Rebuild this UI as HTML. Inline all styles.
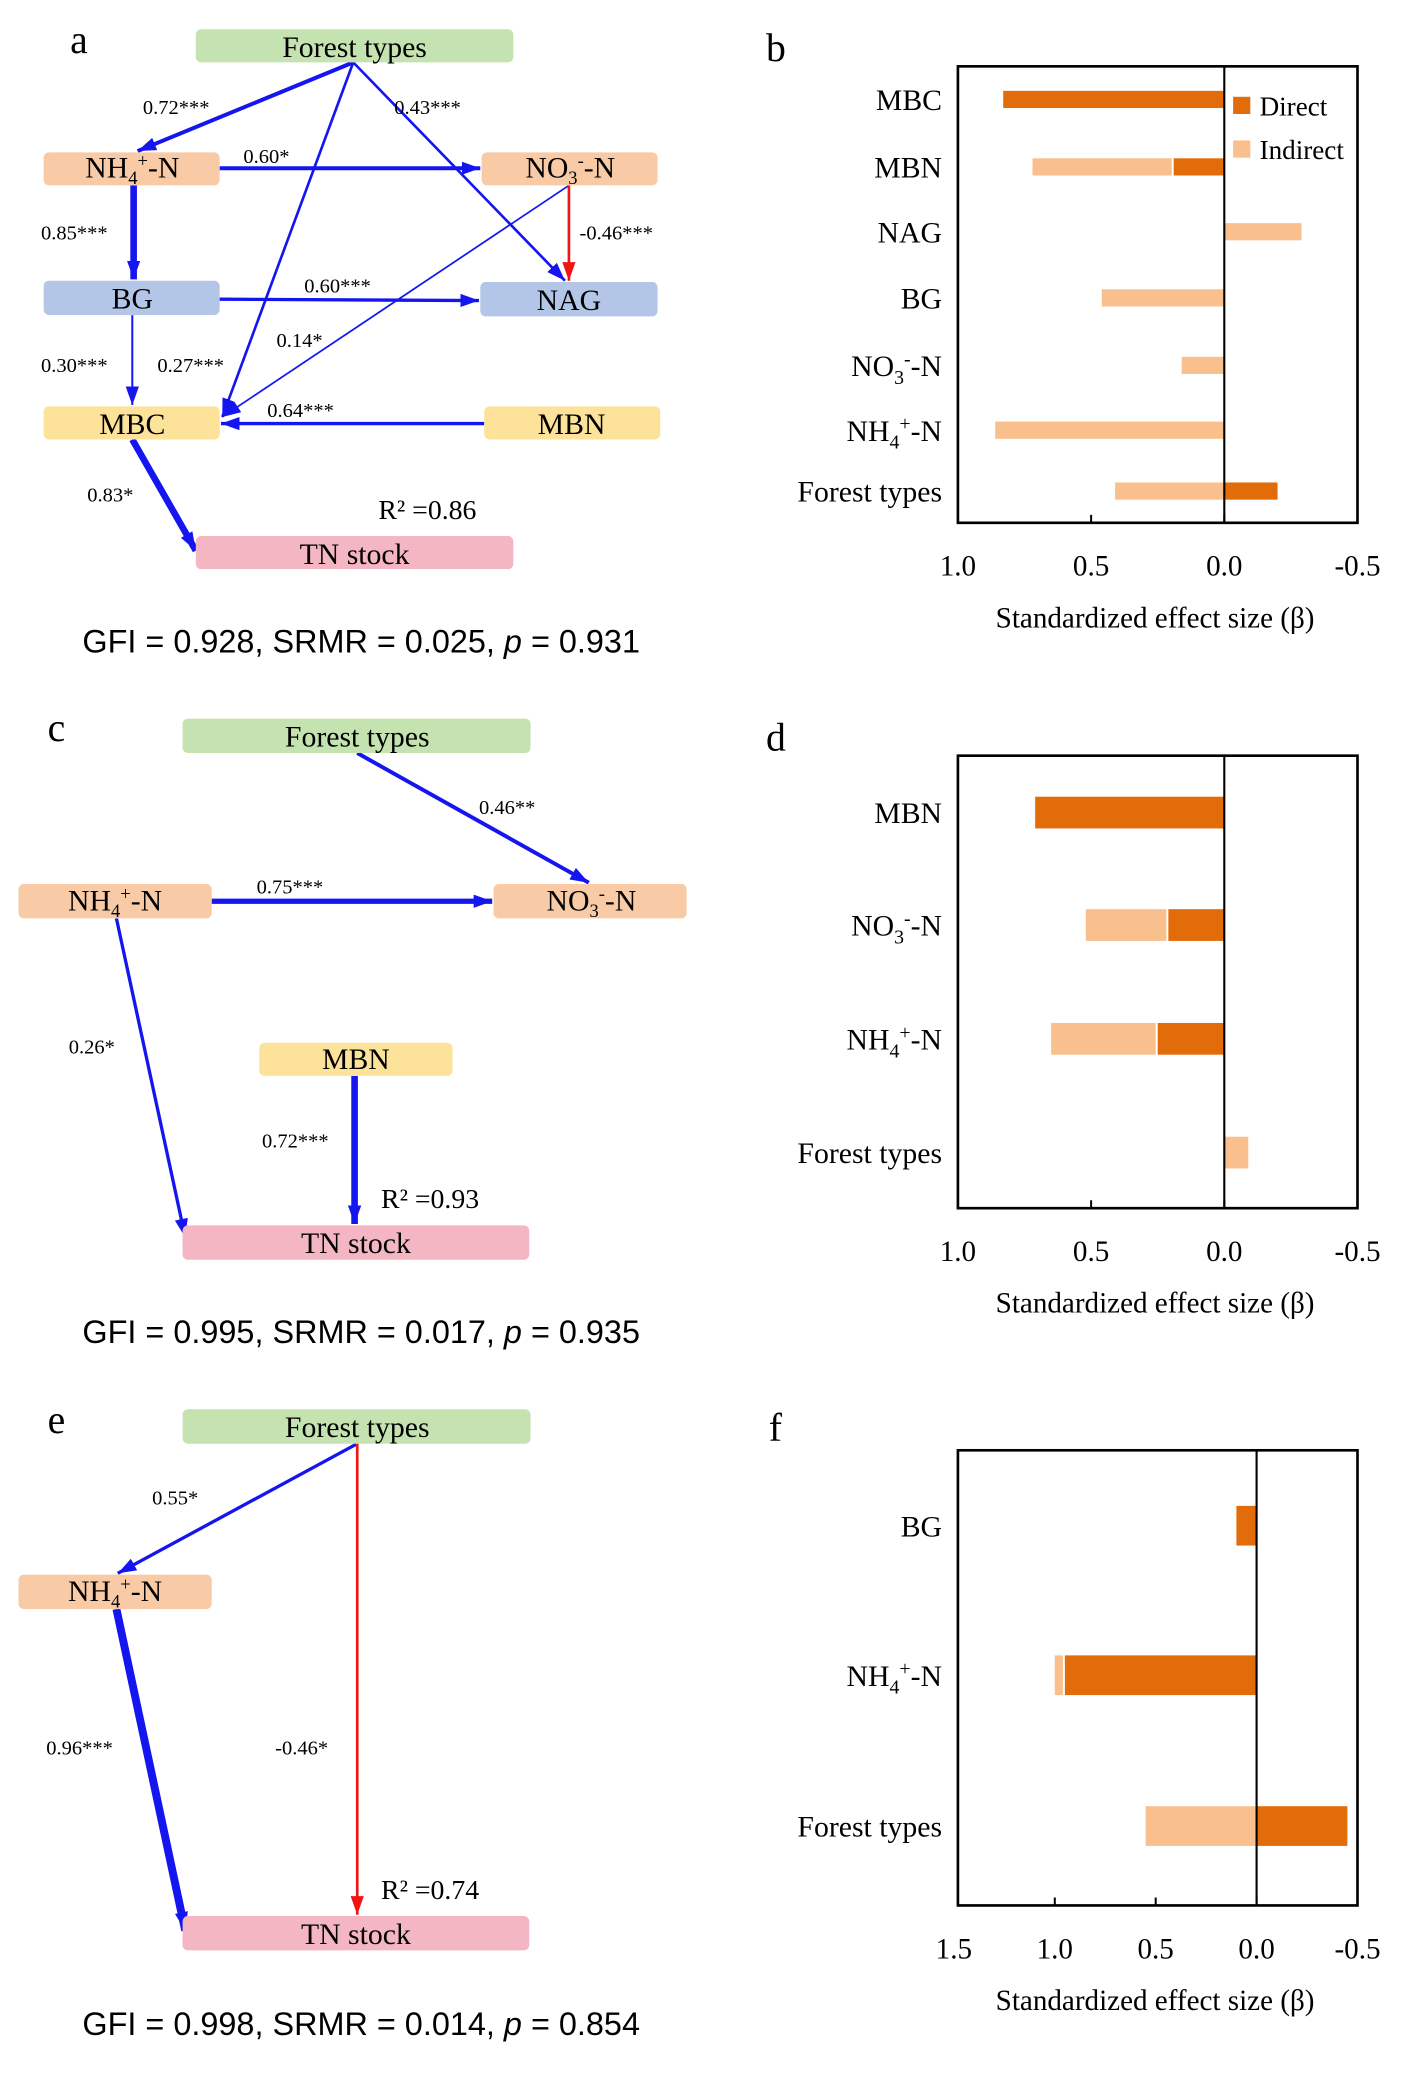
<!DOCTYPE html>
<html><head><meta charset="utf-8">
<style>
html,body{margin:0;padding:0;background:#fff;}
svg{display:block;}
.serif{font-family:"Liberation Serif",serif;}
.lab{font-family:"Liberation Serif",serif;font-size:15.5px;}
.box{font-family:"Liberation Serif",serif;font-size:22.5px;}
.fit{font-family:"Liberation Sans",sans-serif;font-size:24.5px;}
</style></head>
<body>
<svg id="fig" width="1421" height="2075" viewBox="0 0 1074 1568" xmlns="http://www.w3.org/2000/svg">
<defs>
<marker id="ab" viewBox="0 0 14 10" refX="14" refY="5" markerWidth="14" markerHeight="10" markerUnits="userSpaceOnUse" orient="auto"><path d="M0,0L14,5L0,10z" fill="#1515f0"/></marker>
<marker id="ar" viewBox="0 0 14 10" refX="14" refY="5" markerWidth="14" markerHeight="10" markerUnits="userSpaceOnUse" orient="auto"><path d="M0,0L14,5L0,10z" fill="#f01515"/></marker>
</defs>

<g class="serif" font-size="30">
<text x="53" y="40">a</text>
<text x="579" y="46">b</text>
<text x="36" y="560">c</text>
<text x="579" y="567">d</text>
<text x="36" y="1083">e</text>
<text x="581" y="1089">f</text>
</g>

<!-- ========== Diagram a ========== -->
<g>
<g stroke="#1515f0" fill="none">
<line x1="267" y1="47" x2="104" y2="114" stroke-width="3" marker-end="url(#ab)"/>
<line x1="267" y1="47" x2="427" y2="212" stroke-width="2" marker-end="url(#ab)"/>
<line x1="267" y1="47" x2="168" y2="315" stroke-width="2" marker-end="url(#ab)"/>
<line x1="166" y1="127" x2="363" y2="127" stroke-width="3" marker-end="url(#ab)"/>
<line x1="101" y1="140" x2="101" y2="211" stroke-width="5" marker-end="url(#ab)"/>
<line x1="166" y1="226" x2="362" y2="227" stroke-width="2.5" marker-end="url(#ab)"/>
<line x1="430" y1="140" x2="168" y2="315" stroke-width="1.3" marker-end="url(#ab)"/>
<line x1="100" y1="238" x2="100" y2="306" stroke-width="1.5" marker-end="url(#ab)"/>
<line x1="366" y1="320" x2="167" y2="320" stroke-width="2.5" marker-end="url(#ab)"/>
<line x1="100" y1="332" x2="148" y2="416" stroke-width="5" marker-end="url(#ab)"/>
</g>
<line x1="430" y1="140" x2="430" y2="212" stroke="#f01515" stroke-width="2" marker-end="url(#ar)"/>
<rect x="148" y="22" width="240" height="25" rx="4" fill="#c5e3b0"/>
<rect x="33" y="115" width="133" height="25" rx="4" fill="#f8cba6"/>
<rect x="364" y="115" width="133" height="25" rx="4" fill="#f8cba6"/>
<rect x="33" y="212" width="133" height="26" rx="4" fill="#b4c6e7"/>
<rect x="363" y="213" width="134" height="26" rx="4" fill="#b4c6e7"/>
<rect x="33" y="307" width="133" height="25" rx="4" fill="#fde29a"/>
<rect x="366" y="307" width="133" height="25" rx="4" fill="#fde29a"/>
<rect x="148" y="405" width="240" height="25" rx="4" fill="#f4b6c2"/>
<g class="box" text-anchor="middle">
<text x="268" y="43">Forest types</text>
<text x="100" y="134">NH<tspan font-size="14" dy="5">4</tspan><tspan font-size="14" dy="-13">+</tspan><tspan dy="8">-N</tspan></text>
<text x="431" y="134">NO<tspan font-size="14" dy="5">3</tspan><tspan font-size="14" dy="-13">-</tspan><tspan dy="8">-N</tspan></text>
<text x="100" y="233">BG</text>
<text x="430" y="234">NAG</text>
<text x="100" y="328">MBC</text>
<text x="432" y="328">MBN</text>
<text x="268" y="426">TN stock</text>
</g>
<g class="lab">
<text x="108" y="86">0.72***</text>
<text x="298" y="86">0.43***</text>
<text x="184" y="123">0.60*</text>
<text x="31" y="181">0.85***</text>
<text x="438" y="181">-0.46***</text>
<text x="230" y="221">0.60***</text>
<text x="209" y="262">0.14*</text>
<text x="31" y="281">0.30***</text>
<text x="119" y="281">0.27***</text>
<text x="202" y="315">0.64***</text>
<text x="66" y="379">0.83*</text>
</g>
<text x="286" y="392" class="serif" font-size="21">R² =0.86</text>
<text x="273" y="493" text-anchor="middle" class="fit">GFI = 0.928, SRMR = 0.025, <tspan font-style="italic">p</tspan> = 0.931</text>
</g>

<!-- ========== Diagram c ========== -->
<g>
<g stroke="#1515f0" fill="none">
<line x1="270" y1="569" x2="445" y2="667" stroke-width="3" marker-end="url(#ab)"/>
<line x1="160" y1="681" x2="372" y2="681" stroke-width="4" marker-end="url(#ab)"/>
<line x1="88" y1="694" x2="140" y2="935" stroke-width="2.5" marker-end="url(#ab)"/>
<line x1="268" y1="813" x2="268" y2="925" stroke-width="5" marker-end="url(#ab)"/>
</g>
<rect x="138" y="543" width="263" height="26" rx="4" fill="#c5e3b0"/>
<rect x="14" y="668" width="146" height="26" rx="4" fill="#f8cba6"/>
<rect x="373" y="668" width="146" height="26" rx="4" fill="#f8cba6"/>
<rect x="196" y="788" width="146" height="25" rx="4" fill="#fde29a"/>
<rect x="138" y="926" width="262" height="26" rx="4" fill="#f4b6c2"/>
<g class="box" text-anchor="middle">
<text x="270" y="564">Forest types</text>
<text x="87" y="688">NH<tspan font-size="14" dy="5">4</tspan><tspan font-size="14" dy="-13">+</tspan><tspan dy="8">-N</tspan></text>
<text x="447" y="688">NO<tspan font-size="14" dy="5">3</tspan><tspan font-size="14" dy="-13">-</tspan><tspan dy="8">-N</tspan></text>
<text x="269" y="808">MBN</text>
<text x="269" y="947">TN stock</text>
</g>
<g class="lab">
<text x="362" y="615">0.46**</text>
<text x="194" y="675">0.75***</text>
<text x="52" y="796">0.26*</text>
<text x="198" y="867">0.72***</text>
</g>
<text x="288" y="913" class="serif" font-size="21">R² =0.93</text>
<text x="273" y="1015" text-anchor="middle" class="fit">GFI = 0.995, SRMR = 0.017, <tspan font-style="italic">p</tspan> = 0.935</text>
</g>

<!-- ========== Diagram e ========== -->
<g>
<g stroke="#1515f0" fill="none">
<line x1="270" y1="1091" x2="89" y2="1189" stroke-width="2.5" marker-end="url(#ab)"/>
<line x1="88" y1="1216" x2="140" y2="1459" stroke-width="6" marker-end="url(#ab)"/>
</g>
<line x1="270" y1="1091" x2="270" y2="1447" stroke="#f01515" stroke-width="2" marker-end="url(#ar)"/>
<rect x="138" y="1065" width="263" height="26" rx="4" fill="#c5e3b0"/>
<rect x="14" y="1190" width="146" height="26" rx="4" fill="#f8cba6"/>
<rect x="138" y="1448" width="262" height="26" rx="4" fill="#f4b6c2"/>
<g class="box" text-anchor="middle">
<text x="270" y="1086">Forest types</text>
<text x="87" y="1210">NH<tspan font-size="14" dy="5">4</tspan><tspan font-size="14" dy="-13">+</tspan><tspan dy="8">-N</tspan></text>
<text x="269" y="1469">TN stock</text>
</g>
<g class="lab">
<text x="115" y="1137">0.55*</text>
<text x="35" y="1326">0.96***</text>
<text x="208" y="1326">-0.46*</text>
</g>
<text x="288" y="1435" class="serif" font-size="21">R² =0.74</text>
<text x="273" y="1538" text-anchor="middle" class="fit">GFI = 0.998, SRMR = 0.014, <tspan font-style="italic">p</tspan> = 0.854</text>
</g>

<g id="charts"></g>
</svg>

<script>
// Chart b
const bCats = ["MBC","MBN","NAG","BG","NO3","NH4","Forest types"];
const bDirect = [0.83,0.19,0,0,0,0,-0.20];
const bIndirect = [0,0.53,-0.29,0.46,0.16,0.86,0.41];
const bTicks = [1.0,0.5,0.0,-0.5];
// Chart d
const dCats = ["MBN","NO3","NH4","Forest types"];
const dDirect = [0.71,0.21,0.25,0];
const dIndirect = [0,0.31,0.40,-0.09];
const dTicks = [1.0,0.5,0.0,-0.5];
// Chart f
const fCats = ["BG","NH4","Forest types"];
const fDirect = [0.10,0.95,-0.45];
const fIndirect = [0,0.05,0.55];
const fTicks = [1.5,1.0,0.5,0.0,-0.5];

const NS="http://www.w3.org/2000/svg";
const DARK="#e36c0a", LIGHT="#f9c08e";
const root=document.getElementById("charts");
function mk(tag,attrs,parent){const e=document.createElementNS(NS,tag);for(const k in attrs)e.setAttribute(k,attrs[k]);(parent||root).appendChild(e);return e;}

function catLabel(g,cat,x,y){
  const t=mk("text",{x:x,y:y,"text-anchor":"end","font-family":"Liberation Serif, serif","font-size":22.5},g);
  
  
  if(cat==="NO3"||cat==="NH4"){
    t.appendChild(document.createTextNode(cat==="NO3"?"NO":"NH"));
    const s1=mk("tspan",{"font-size":15,dy:6},t);s1.textContent=cat==="NO3"?"3":"4";
    const s2=mk("tspan",{"font-size":15,dy:-14},t);s2.textContent=cat==="NO3"?"-":"+";
    const s3=mk("tspan",{dy:8},t);s3.textContent="-N";
  } else t.textContent=cat;
}

function chart(name,cats,direct,indirect,ticks,box,rowsY,barH,xmax,xmin,legend){
  const g=mk("g",{});
  
  
  const [x0,y0,x1,y1]=box;
  const sx=v=>x0+(xmax-v)/(xmax-xmin)*(x1-x0);
  cats.forEach((c,i)=>{
    const cy=rowsY[i];
    const d=direct[i], ind=indirect[i];
    if(d!==0){
      const r=mk("rect",{x:Math.min(sx(0),sx(d)),y:cy-barH/2,width:Math.abs(sx(d)-sx(0)),height:barH,fill:DARK},g);
      
      
    }
    if(ind!==0){
      const base=(d!==0 && Math.sign(d)===Math.sign(ind))?d:0;
      const gap=base!==0?1.5:0;
      const a=sx(base), b=sx(base+ind);
      const r=mk("rect",{x:Math.min(a,b),y:cy-barH/2,width:Math.abs(b-a)-gap,height:barH,fill:LIGHT},g);
      
      
    }
    catLabel(g,c,x0-12,cy+8);
  });
  const f=mk("rect",{x:x0,y:y0,width:x1-x0,height:y1-y0,fill:"none",stroke:"#000","stroke-width":2},g);
  
  
  const z=mk("line",{x1:sx(0),x2:sx(0),y1:y0,y2:y1,stroke:"#000","stroke-width":1.6},g);
  
  
  ticks.forEach(t=>{
    if(sx(t)>=x0-0.5){
      const tk=mk("line",{x1:sx(t),x2:sx(t),y1:y1,y2:y1-6,stroke:"#000","stroke-width":1.5},g);
      
      
    }
    const tl=mk("text",{x:sx(t),y:y1+40,"text-anchor":"middle","font-family":"Liberation Serif, serif","font-size":22},g);
    
    
    tl.textContent=t.toFixed(1);
  });
  const at=mk("text",{x:(x0+x1)/2-2,y:y1+79,"text-anchor":"middle","font-family":"Liberation Serif, serif","font-size":22},g);
  
  
  at.textContent="Standardized effect size (\u03B2)";
  if(legend){
    [["Direct",DARK,80],["Indirect",LIGHT,113]].forEach(([lab,col,y])=>{
      const sw=mk("rect",{x:932,y:y-7,width:13,height:13,fill:col},g);
      
      
      const lt=mk("text",{x:952,y:y+7,"font-family":"Liberation Serif, serif","font-size":20.5},g);
      
      
      lt.textContent=lab;
    });
  }
}
chart("effect-chart-b",bCats,bDirect,bIndirect,bTicks,[724,50,1026,395],[75,126,175,225,276,325,371],13,1.0,-0.5,true);
chart("effect-chart-d",dCats,dDirect,dIndirect,dTicks,[724,571,1026,913],[614,699,785,871],24,1.0,-0.5,false);
chart("effect-chart-f",fCats,fDirect,fIndirect,fTicks,[724,1096,1026,1440],[1153,1266,1380],30,1.48,-0.5,false);
</script>
</body></html>
